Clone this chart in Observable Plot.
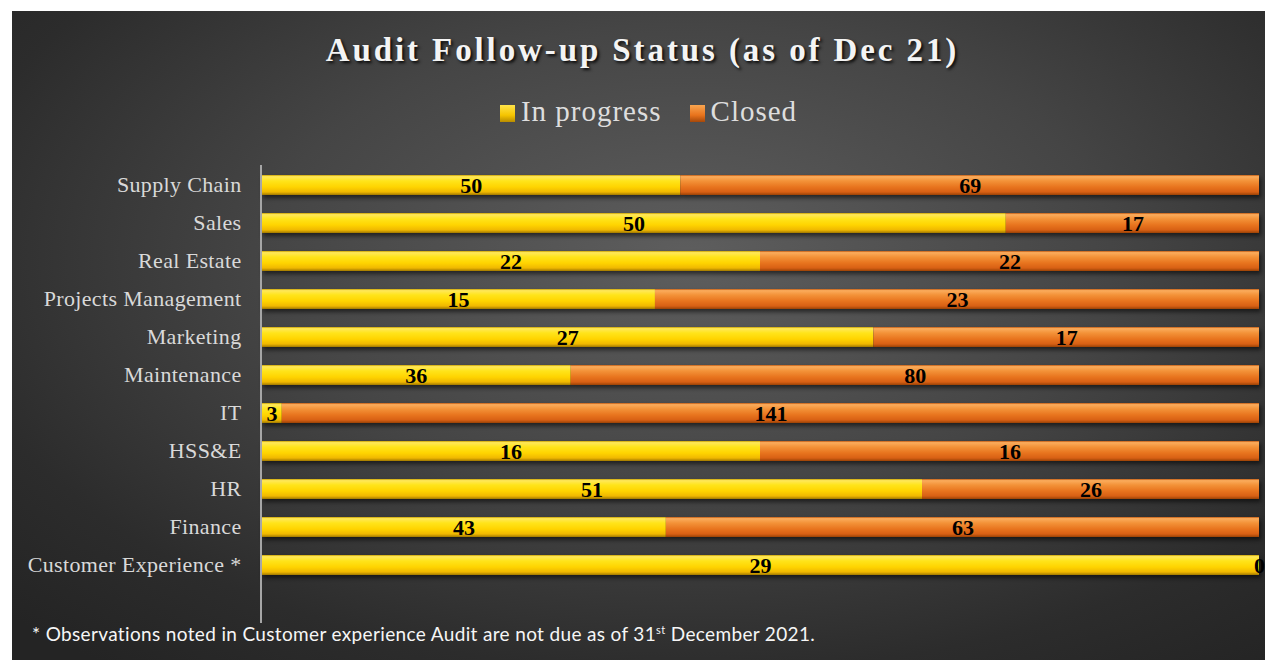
<!DOCTYPE html>
<html>
<head>
<meta charset="utf-8">
<script src="https://cdn.jsdelivr.net/npm/d3@7"></script>
<script src="https://cdn.jsdelivr.net/npm/@observablehq/plot@0.6"></script>
<style>
  html, body { margin: 0; padding: 0; background: #ffffff; }
  #card {
    position: absolute; left: 12px; top: 11px; width: 1253px; height: 649px; overflow: hidden;
    background: radial-gradient(ellipse 75% 80% at 54% 38%, #5e5e5e 0%, #454545 45%, #2c2c2c 80%, #242424 100%);
  }
  #title {
    position: absolute; left: 4px; width: 1253px; top: 21px; text-align: center;
    font-family: "Liberation Serif", serif; font-weight: bold; font-size: 33px; letter-spacing: 2.9px;
    color: #f4f4f4; text-shadow: 2px 2px 3px rgba(0,0,0,0.85);
  }
  #legend {
    position: absolute; left: 10px; width: 1253px; top: 84px; text-align: center;
    font-family: "Liberation Serif", serif; font-size: 29px; letter-spacing: 1px; color: #dedede;
  }
  #legend span.item { display: inline-block; margin: 0 14px; }
  #legend span.sw { display: inline-block; width: 15px; height: 17px; margin-right: 6px; vertical-align: -1px; }
  #chart { position: absolute; left: 0; top: 129px; }
  #chart g[aria-label="y-axis tick label"] text { letter-spacing: 0.35px; }
  #caption {
    position: absolute; left: 20px; top: 611px;
    font-family: Lato, "Open Sans", sans-serif; font-size: 19px; color: #f6f6f6; letter-spacing: 0.35px;
  }
  #caption sup { font-size: 11px; }
</style>
</head>
<body>
<div id="card">
  <div id="title">Audit Follow-up Status (as of Dec 21)</div>
  <div id="legend"></div>
  <div id="chart"></div>
  <div id="caption">* Observations noted in Customer experience Audit are not due as of 31<sup>st</sup> December 2021.</div>
</div>
<script>
const departments = ["Supply Chain","Sales","Real Estate","Projects Management","Marketing","Maintenance","IT","HSS&E","HR","Finance","Customer Experience *"];
const inProgress = [50,50,22,15,27,36,3,16,51,43,29];
const closed = [69,17,22,23,17,80,141,16,26,63,0];
const seriesNames = ["In progress","Closed"];
const seriesFills = ["url(#gYellow)","url(#gOrange)"];
const swatchColors = ["linear-gradient(#ffe44a, #f5c400 60%, #b88c00)","linear-gradient(#f9a550, #e8731c 60%, #a5480a)"];

const rows = [];
departments.forEach((d, i) => {
  rows.push({dept: d, status: seriesNames[0], value: inProgress[i]});
  rows.push({dept: d, status: seriesNames[1], value: closed[i]});
});

// legend
const legend = document.getElementById("legend");
seriesNames.forEach((s, i) => {
  const item = document.createElement("span");
  item.className = "item";
  item.innerHTML = `<span class="sw" style="background:${swatchColors[i]}"></span>${s}`;
  legend.appendChild(item);
});

const yDomain = [...departments, ""];

const chart = Plot.plot({
  width: 1253,
  height: 500,
  marginTop: 25,
  marginBottom: 17,
  marginLeft: 249,
  marginRight: 6,
  style: {background: "transparent", fontFamily: "Liberation Serif, serif", fontSize: "22px", color: "#d9d9d9", overflow: "visible"},
  x: {domain: [0, 1], axis: null},
  y: {domain: yDomain, paddingInner: 0.48, paddingOuter: 0.24, label: null},
  color: {domain: seriesNames, range: seriesFills},
  marks: [
    Plot.barX(rows, Plot.stackX({x: "value", y: "dept", fill: "status", offset: "normalize", order: null})),
    Plot.axisY({tickSize: 0, tickPadding: 20, tickFormat: d => d, fill: "#d9d9d9", label: null, dy: -1}),
    Plot.ruleX([0], {stroke: "#a6a6a6", strokeWidth: 2, dx: -0.5}),
    Plot.text(rows, Plot.stackX({x: "value", y: "dept", text: d => String(d.value), offset: "normalize", order: null, fontWeight: "bold", fontSize: 22, fill: "#000", dy: 0, fontFamily: "Liberation Serif, serif"}))
  ]
});

// gradients
const svg = d3.select(chart);
const defs = svg.insert("defs", ":first-child");
const gy = defs.append("linearGradient").attr("id", "gYellow").attr("x1", 0).attr("y1", 0).attr("x2", 0).attr("y2", 1);
[[0,"#c9a000"],[0.08,"#ffe85a"],[0.3,"#ffe41a"],[0.6,"#ffd400"],[0.85,"#f0b800"],[1,"#a07800"]].forEach(([o,c]) => gy.append("stop").attr("offset", o).attr("stop-color", c));
const go = defs.append("linearGradient").attr("id", "gOrange").attr("x1", 0).attr("y1", 0).attr("x2", 0).attr("y2", 1);
[[0,"#c05a12"],[0.08,"#fbac5c"],[0.3,"#f39238"],[0.6,"#e8741e"],[0.85,"#d86014"],[1,"#9a4206"]].forEach(([o,c]) => go.append("stop").attr("offset", o).attr("stop-color", c));
svg.selectAll('g[aria-label="bar"]').style("filter", "drop-shadow(2px 3px 2px rgba(0,0,0,0.55))");

document.getElementById("chart").appendChild(chart);
</script>
</body>
</html>
